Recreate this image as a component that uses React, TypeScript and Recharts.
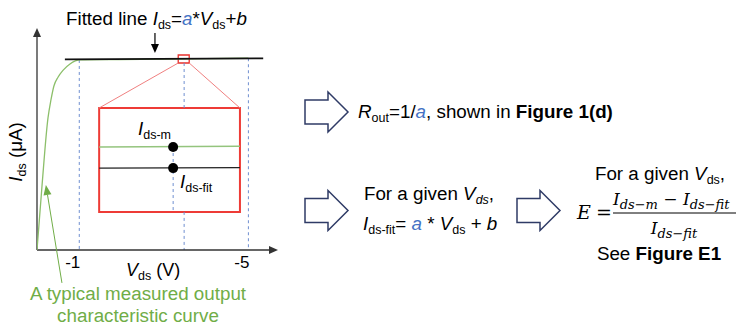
import React from 'react';
import { LineChart, Line, XAxis, YAxis, ReferenceLine, ReferenceArea, ReferenceDot } from 'recharts';

// measured output curve (Vds in V, Ids in µA, arbitrary scale)
const curveVds = [0, -0.12, -0.26, -0.33, -0.4, -0.5, -0.62, -0.78, -1.02, -1.96, -3.0, -4.0, -5.0];
const curveIds = [0, 3.4, 6.9, 7.84, 8.57, 9.04, 9.4, 9.72, 9.93, 9.95, 9.98, 10.0, 10.02];

// fitted line Ids = a*Vds + b
const fitVds = [-0.66, -5.35];
const fitIds = [9.96, 10.01];

// dashed guides at the measured bias points
const guideVds = [-1, -3.48, -5];
const guideTop = [9.93, 9.77, 10.02];
const xTicks = [-1, -5];

// zoom window and its enlarged inset
const pickVds = [-3.34, -3.6];
const pickIds = [9.77, 10.19];
const insetVds = [-1.47, -4.8];
const insetIds = [1.99, 7.42];
const insetMeasured = [5.38, 5.42];
const insetFit = [4.28, 4.3];
const insetPointVds = -3.22;

const X_DOMAIN = [-5.7, 0];
const Y_DOMAIN = [0, 11.6];

const FONT = '"Liberation Sans", Arial, sans-serif';
const MATH = '"DejaVu Serif", "Liberation Serif", serif';
const BLUE = '#4472c4';
const GREEN = '#70ad47';
const NAVY = '#2f3b66';
const FS = 18.8;
const SUB = 12.5;

const curveData = curveVds.map((v, k) => ({ v, i: curveIds[k] }));
const fitData = fitVds.map((v, k) => ({ v, i: fitIds[k] }));

type Seg = { t: string; i?: boolean; b?: boolean; sub?: boolean; c?: string };

const Rich = ({ x, y, segs, size = FS, sub = SUB, anchor = 'start', family = FONT, fill = '#000', drop = 0.2 }: any) => {
  let inSub = false;
  const shift = size * drop;
  return (
    <text x={x} y={y} fontSize={size} fontFamily={family} textAnchor={anchor} fill={fill}>
      {segs.map((s: Seg, k: number) => {
        let dy = 0;
        if (s.sub && !inSub) dy = shift;
        if (!s.sub && inSub) dy = -shift;
        inSub = !!s.sub;
        return (
          <tspan
            key={k}
            dy={dy || undefined}
            fontStyle={s.i ? 'italic' : undefined}
            fontWeight={s.b ? 'bold' : undefined}
            fontSize={s.sub ? sub : undefined}
            fill={s.c}
          >
            {s.t}
          </tspan>
        );
      })}
    </text>
  );
};

const arrowShape = (color: string, head = 9, half = 4, width = 1.3) => (p: any) => {
  const { x1, y1, x2, y2 } = p;
  const dx = x2 - x1;
  const dy = y2 - y1;
  const len = Math.hypot(dx, dy) || 1;
  const ux = dx / len;
  const uy = dy / len;
  const bx = x2 - ux * head;
  const by = y2 - uy * head;
  return (
    <g>
      <line x1={x1} y1={y1} x2={bx} y2={by} stroke={color} strokeWidth={width} />
      <polygon
        points={`${x2},${y2} ${bx - uy * half},${by + ux * half} ${bx + uy * half},${by - ux * half}`}
        fill={color}
      />
    </g>
  );
};

const Tick = ({ x, payload }: any) => (
  <text x={x - 6.5} y={268} textAnchor="middle" fontSize={17} fontFamily={FONT} fill="#000">
    {payload.value}
  </text>
);

const BlockArrow = ({ dx = 0, dy = 0 }: any) => (
  <path
    d={`M${305 + dx},${100 + dy} L${328 + dx},${100 + dy} L${328 + dx},${92 + dy} L${348 + dx},${112 + dy} L${328 + dx},${132 + dy} L${328 + dx},${124 + dy} L${305 + dx},${124 + dy} Z`}
    fill="#fff"
    stroke={NAVY}
    strokeWidth={1.5}
  />
);

const Overlay = () => (
  <svg width={736} height={326} style={{ position: 'absolute', left: 0, top: 0, pointerEvents: 'none' }}>
    <Rich
      x={66}
      y={25}
      segs={[
        { t: 'Fitted line ' },
        { t: 'I', i: true },
        { t: 'ds', sub: true },
        { t: '=' },
        { t: 'a', i: true, c: BLUE },
        { t: '*' },
        { t: 'V', i: true },
        { t: 'ds', sub: true },
        { t: '+' },
        { t: 'b', i: true },
      ]}
    />
    <g transform="rotate(-90 22 152)">
      <Rich x={22} y={152} anchor="middle" segs={[{ t: 'I', i: true }, { t: 'ds', sub: true }, { t: ' (μA)' }]} />
    </g>
    <Rich x={126} y={276} size={18} segs={[{ t: 'V', i: true }, { t: 'ds', sub: true }, { t: ' (V)' }]} />
    <Rich x={138} y={135} segs={[{ t: 'I', i: true }, { t: 'ds-m', sub: true }]} />
    <Rich x={180} y={188} segs={[{ t: 'I', i: true }, { t: 'ds-fit', sub: true }]} />
    <text x={138} y={300} textAnchor="middle" fontSize={FS} fontFamily={FONT} fill={GREEN}>
      A typical measured output
    </text>
    <text x={138} y={322} textAnchor="middle" fontSize={FS} fontFamily={FONT} fill={GREEN}>
      characteristic curve
    </text>

    <BlockArrow />
    <BlockArrow dy={98.5} />
    <BlockArrow dx={212} dy={98.5} />

    <Rich
      x={358}
      y={118}
      segs={[
        { t: 'R', i: true },
        { t: 'out', sub: true },
        { t: '=1/' },
        { t: 'a', i: true, c: BLUE },
        { t: ', shown in ' },
        { t: 'Figure 1(d)', b: true },
      ]}
    />
    <Rich
      x={429}
      y={200}
      anchor="middle"
      segs={[{ t: 'For a given ' }, { t: 'V', i: true }, { t: 'ds', sub: true, i: true }, { t: ',' }]}
    />
    <Rich
      x={363}
      y={230}
      segs={[
        { t: 'I', i: true },
        { t: 'ds-fit', sub: true },
        { t: '= ' },
        { t: 'a', i: true, c: BLUE },
        { t: ' * ' },
        { t: 'V', i: true },
        { t: 'ds', sub: true },
        { t: ' + ' },
        { t: 'b', i: true },
      ]}
    />
    <Rich
      x={660}
      y={180}
      anchor="middle"
      segs={[{ t: 'For a given ' }, { t: 'V', i: true }, { t: 'ds', sub: true }, { t: ',' }]}
    />
    <text x={577} y={219} fontSize={19} fontFamily={MATH} fontStyle="italic">E</text>
    <text x={596} y={219} fontSize={19} fontFamily={MATH}>=</text>
    <Rich
      x={613}
      y={205}
      size={17}
      sub={13}
      drop={0.25}
      family={MATH}
      segs={[
        { t: 'I', i: true },
        { t: 'ds−m', sub: true, i: true },
        { t: ' − ' },
        { t: 'I', i: true },
        { t: 'ds−fit', sub: true, i: true },
      ]}
    />
    <line x1={613} y1={213} x2={736} y2={213} stroke="#000" strokeWidth={1} />
    <Rich
      x={674}
      y={234}
      size={17}
      sub={13}
      drop={0.25}
      anchor="middle"
      family={MATH}
      segs={[{ t: 'I', i: true }, { t: 'ds−fit', sub: true, i: true }]}
    />
    <Rich x={659} y={260} anchor="middle" segs={[{ t: 'See ' }, { t: 'Figure E1', b: true }]} />
  </svg>
);

export default function App() {
  const guideColor = '#6f8fd0';
  return (
    <div style={{ position: 'absolute', left: 0, top: 0, width: 736, height: 326, background: '#fff' }}>
      <LineChart width={736} height={326} margin={{ top: 28, right: 458, bottom: 46, left: 37 }}>
        <XAxis
          type="number"
          dataKey="v"
          domain={X_DOMAIN}
          reversed
          allowDataOverflow
          ticks={xTicks}
          interval={0}
          height={30}
          axisLine={false}
          tickLine={false}
          tick={Tick}
        />
        <YAxis type="number" dataKey="i" domain={Y_DOMAIN} allowDataOverflow hide />

        {/* dashed guides; the middle one is interrupted by the inset */}
        {guideVds.map((v, k) =>
          v < insetVds[0] && v > insetVds[1] ? (
            <React.Fragment key={k}>
              <ReferenceLine segment={[{ x: v, y: guideTop[k] }, { x: v, y: insetIds[1] }]} stroke={guideColor} strokeDasharray="3 3" />
              <ReferenceLine segment={[{ x: v, y: insetIds[0] }, { x: v, y: 0 }]} stroke={guideColor} strokeDasharray="3 3" />
            </React.Fragment>
          ) : (
            <ReferenceLine key={k} segment={[{ x: v, y: guideTop[k] }, { x: v, y: 0 }]} stroke={guideColor} strokeDasharray="3 3" />
          )
        )}

        {/* axes with arrow heads */}
        <ReferenceLine segment={[{ x: 0, y: 0 }, { x: X_DOMAIN[0], y: 0 }]} ifOverflow="visible" shape={arrowShape('#333')} />
        <ReferenceLine segment={[{ x: 0, y: 0 }, { x: 0, y: Y_DOMAIN[1] }]} ifOverflow="visible" shape={arrowShape('#333')} />

        <Line data={curveData} dataKey="i" type="monotone" stroke="#8cbf6a" strokeWidth={1.3} dot={false} isAnimationActive={false} />
        <Line data={fitData} dataKey="i" type="linear" stroke="#111" strokeWidth={1.8} dot={false} isAnimationActive={false} />

        {/* zoom window and connectors */}
        <ReferenceArea x1={pickVds[0]} x2={pickVds[1]} y1={pickIds[0]} y2={pickIds[1]} fill="none" stroke="#e8302c" strokeWidth={1.3} ifOverflow="visible" />
        <ReferenceLine segment={[{ x: pickVds[0], y: pickIds[0] }, { x: insetVds[0], y: insetIds[1] }]} stroke="#f08080" strokeWidth={1} />
        <ReferenceLine segment={[{ x: pickVds[1], y: pickIds[0] }, { x: insetVds[1], y: insetIds[1] }]} stroke="#f08080" strokeWidth={1} />
        <ReferenceArea x1={insetVds[0]} x2={insetVds[1]} y1={insetIds[0]} y2={insetIds[1]} fill="#fff" fillOpacity={1} stroke="#ee3b36" strokeWidth={2} />

        {/* inset contents */}
        <ReferenceLine segment={[{ x: insetVds[0], y: insetMeasured[0] }, { x: insetVds[1], y: insetMeasured[1] }]} stroke="#94c47d" strokeWidth={1.5} />
        <ReferenceLine segment={[{ x: insetVds[0], y: insetFit[0] }, { x: insetVds[1], y: insetFit[1] }]} stroke="#222" strokeWidth={1.3} />
        <ReferenceLine segment={[{ x: insetPointVds, y: insetMeasured[0] }, { x: insetPointVds, y: insetIds[0] }]} stroke={guideColor} strokeDasharray="3 3" />
        <ReferenceDot x={insetPointVds} y={insetMeasured[0]} r={5} fill="#000" stroke="none" />
        <ReferenceDot x={insetPointVds} y={insetFit[0]} r={5} fill="#000" stroke="none" />

        {/* annotation arrows */}
        <ReferenceLine segment={[{ x: -2.79, y: 11.34 }, { x: -2.79, y: 10.29 }]} ifOverflow="visible" shape={arrowShape('#000', 9, 4, 1.2)} />
        <ReferenceLine segment={[{ x: -0.59, y: -1.72 }, { x: -0.21, y: 3.4 }]} ifOverflow="visible" shape={arrowShape(GREEN, 10, 4, 1)} />
      </LineChart>
      <Overlay />
    </div>
  );
}
